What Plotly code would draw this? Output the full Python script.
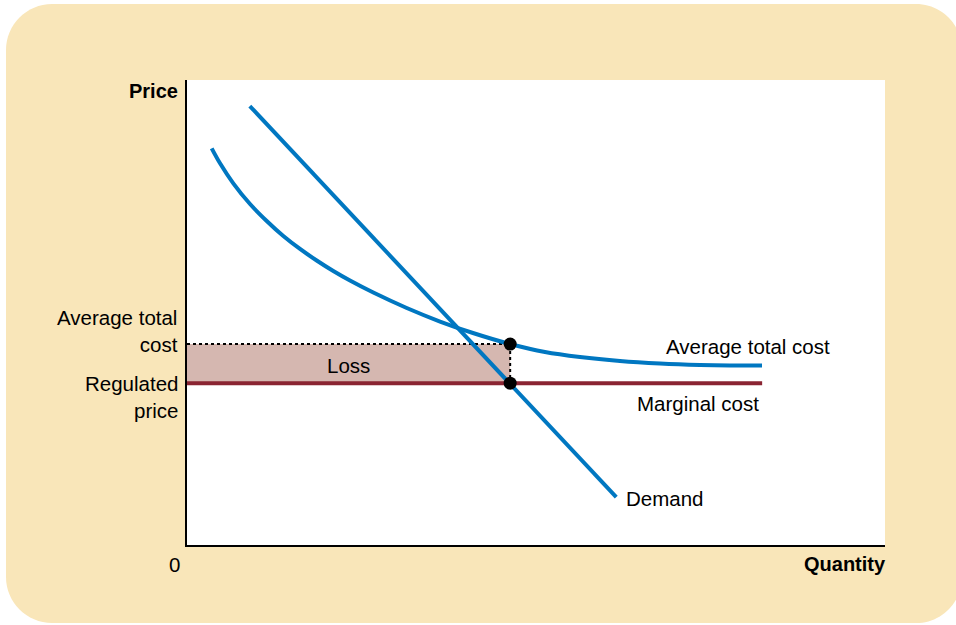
import plotly.graph_objects as go

# ---- data (axis units 0-100) ----
demand_q = [9.0, 61.5]
demand_p = [94.4, 10.3]

atc_q = [3.54, 4.73, 6.63, 9.03, 11.42, 13.80, 16.19, 18.58, 20.96, 23.35, 26.69, 31.48,
         36.25, 40.97, 46.28, 51.29, 56.30, 62.03, 67.77, 73.50, 77.79, 82.38]
atc_p = [85.31, 82.09, 77.78, 73.33, 69.68, 66.45, 63.66, 61.18, 58.92, 56.88, 54.30, 50.97,
         48.06, 45.59, 43.23, 41.51, 40.43, 39.57, 39.03, 38.71, 38.60, 38.60]

mc_q = [0, 82.4]
regulated_price = 34.8
q_star = 46.3
atc_star = 43.2

W, H = 956, 625
L, R, T, B = 187, 71, 80, 80
PW, PH = W - L - R, H - T - B

def px(x, y):
    return (x - L) / PW, (H - B - y) / PH

font = "Liberation Sans, Arial, sans-serif"
blue = "#0077C1"
red = "#8A2432"
peach = "#F9E6B9"

fig = go.Figure()

# Loss area
fig.add_trace(go.Scatter(
    x=[0, q_star, q_star, 0, 0],
    y=[regulated_price, regulated_price, atc_star, atc_star, regulated_price],
    fill="toself", fillcolor="#D5B7B0", line=dict(width=0), mode="lines",
    hoverinfo="skip", showlegend=False))

# Marginal cost
fig.add_trace(go.Scatter(x=mc_q, y=[regulated_price] * 2, mode="lines",
                         line=dict(color=red, width=4), showlegend=False))
# dotted guides
fig.add_trace(go.Scatter(x=[0, q_star, q_star], y=[atc_star, atc_star, regulated_price],
                         mode="lines", line=dict(color="black", width=2, dash="dot"),
                         showlegend=False))
# ATC
fig.add_trace(go.Scatter(x=atc_q, y=atc_p, mode="lines",
                         line=dict(color=blue, width=4, shape="spline", smoothing=1.0),
                         showlegend=False))
# Demand
fig.add_trace(go.Scatter(x=demand_q, y=demand_p, mode="lines", line=dict(color=blue, width=4),
                         showlegend=False))
# points
fig.add_trace(go.Scatter(x=[q_star, q_star], y=[atc_star, regulated_price], mode="markers",
                         marker=dict(color="black", size=13), showlegend=False))

# background rounded rectangle
def rounded(x0, y0, x1, y1, r):
    def p(x, y):
        a, b = px(x, y)
        return f"{a:.5f},{b:.5f}"
    k = 0.45
    return (f"M {p(x0 + r, y0)} L {p(x1 - r, y0)} "
            f"C {p(x1 - r * k, y0)} {p(x1, y0 + r * k)} {p(x1, y0 + r)} "
            f"L {p(x1, y1 - r)} "
            f"C {p(x1, y1 - r * k)} {p(x1 - r * k, y1)} {p(x1 - r, y1)} "
            f"L {p(x0 + r, y1)} "
            f"C {p(x0 + r * k, y1)} {p(x0, y1 - r * k)} {p(x0, y1 - r)} "
            f"L {p(x0, y0 + r)} "
            f"C {p(x0, y0 + r * k)} {p(x0 + r * k, y0)} {p(x0 + r, y0)} Z")

shapes = [
    dict(type="path", xref="paper", yref="paper", path=rounded(6, 4, 962, 623, 46),
         fillcolor=peach, line=dict(width=0), layer="below"),
    dict(type="rect", xref="paper", yref="paper", x0=0, x1=1, y0=0, y1=1,
         fillcolor="white", line=dict(width=0), layer="below"),
]

ann = []
def a(text, x, y, xanchor="center", size=20.5, bold=False, xref="x", yref="y", yshift=0, xshift=0):
    ann.append(dict(text=f"<b>{text}</b>" if bold else text, x=x, y=y, xref=xref, yref=yref,
                    xanchor=xanchor, yanchor="middle", showarrow=False, yshift=yshift, xshift=xshift,
                    font=dict(family=font, size=size, color="black"), align="right"))

lx, _ = px(180, 0)
a("Average total cost", 80.4, 42.6)
a("Marginal cost", 73.2, 30.5)
a("Demand", 62.6, 9.9, xanchor="left")
a("Loss", 23.2, 38.7)
a("Average total<br>cost", lx, atc_star, xanchor="right", xref="paper", yshift=13)
a("Regulated<br>price", lx, regulated_price, xanchor="right", xref="paper", yshift=-14)
a("Price", lx, px(0, 91)[1], xanchor="right", xref="paper", yref="paper", bold=True, size=20)
a("0", px(174, 0)[0], px(0, 564)[1], xref="paper", yref="paper")
a("Quantity", 1.0, px(0, 564)[1], xanchor="right", xref="paper", yref="paper", bold=True,
  size=20, xshift=3)

fig.update_layout(
    width=W, height=H, margin=dict(l=L, r=R, t=T, b=B),
    paper_bgcolor="white", plot_bgcolor="white",
    shapes=shapes, annotations=ann, showlegend=False,
    xaxis=dict(range=[0, 100], showgrid=False, zeroline=False, showticklabels=False,
               showline=True, linecolor="black", linewidth=1.5, ticks=""),
    yaxis=dict(range=[0, 100], showgrid=False, zeroline=False, showticklabels=False,
               showline=True, linecolor="black", linewidth=1.5, ticks=""),
)

fig.write_html("out.html", config={"displayModeBar": False},
               post_script="document.body.style.margin='0px';document.body.style.overflow='hidden';")
